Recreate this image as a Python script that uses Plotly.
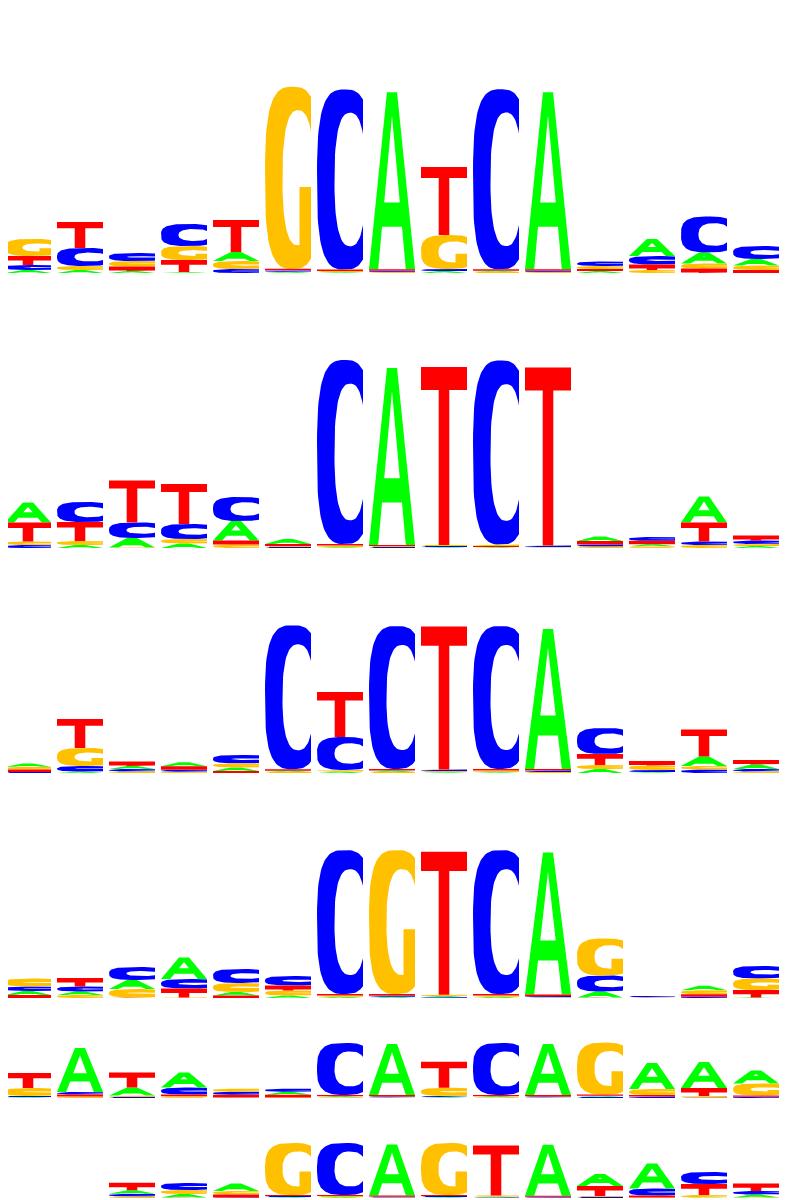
import numpy as np
import plotly.graph_objects as go
from plotly.subplots import make_subplots

# six stacked sequence logos, heights in bits, columns give [A, C, G, T]
letters = ["A", "C", "G", "T"]
colors = {"A": "#00ff00", "C": "#0000ff", "G": "#ffc000", "T": "#ff0000"}
positions = list(range(1, 16))

logo1 = [
    [0.03, 0.05, 0.17, 0.09], [0.03, 0.18, 0.04, 0.26], [0.02, 0.08, 0.055, 0.045],
    [0.01, 0.22, 0.14, 0.12], [0.09, 0.04, 0.08, 0.32], [0.012, 0.015, 1.82, 0.015],
    [0.01, 1.80, 0.01, 0.015], [1.77, 0.015, 0.007, 0.015], [0.02, 0.02, 0.34, 0.68],
    [0.012, 1.80, 0.01, 0.015], [1.77, 0.015, 0.007, 0.015], [0.02, 0.045, 0.03, 0.02],
    [0.17, 0.085, 0.03, 0.055], [0.11, 0.36, 0.05, 0.045], [0.065, 0.13, 0.045, 0.03],
]
logo2 = [
    [0.20, 0.03, 0.035, 0.19], [0.03, 0.20, 0.04, 0.19], [0.095, 0.155, 0.005, 0.42],
    [0.045, 0.15, 0.045, 0.40], [0.195, 0.24, 0.035, 0.04], [0.05, 0.01, 0.01, 0.02],
    [0.01, 1.84, 0.015, 0.015], [1.77, 0.01, 0.01, 0.01], [0.01, 0.01, 0.01, 1.78],
    [0.01, 1.84, 0.015, 0.01], [0.005, 0.015, 0.005, 1.78], [0.045, 0.02, 0.015, 0.035],
    [0.02, 0.038, 0.017, 0.035], [0.26, 0.035, 0.03, 0.19], [0.02, 0.035, 0.02, 0.05],
]
logo3 = [
    [0.033, 0.01, 0.027, 0.025], [0.015, 0.055, 0.18, 0.29], [0.03, 0.025, 0.015, 0.045],
    [0.04, 0.02, 0.013, 0.035], [0.036, 0.085, 0.04, 0.02], [0.012, 1.44, 0.01, 0.015],
    [0.015, 0.33, 0.015, 0.45], [0.015, 1.43, 0.01, 0.015], [0.01, 0.015, 0.01, 1.43],
    [0.01, 1.43, 0.015, 0.015], [1.40, 0.015, 0.01, 0.015], [0.04, 0.26, 0.04, 0.11],
    [0.01, 0.02, 0.045, 0.045], [0.095, 0.035, 0.035, 0.27], [0.045, 0.025, 0.015, 0.045],
]
logo4 = [
    [0.04, 0.045, 0.08, 0.03], [0.035, 0.05, 0.03, 0.085], [0.09, 0.13, 0.085, 0.005],
    [0.215, 0.095, 0.005, 0.09], [0.035, 0.14, 0.09, 0.025], [0.025, 0.095, 0.05, 0.05],
    [0.013, 1.44, 0.013, 0.013], [0.013, 0.013, 1.44, 0.013], [0.013, 0.007, 0.013, 1.43],
    [0.013, 1.44, 0.013, 0.013], [1.42, 0.013, 0.008, 0.013], [0.06, 0.16, 0.37, 0.005],
    [0.003, 0.012, 0.003, 0.003], [0.045, 0.013, 0.04, 0.025], [0.005, 0.125, 0.115, 0.075],
]
logo5 = [
    [0.01, 0.01, 0.08, 0.15], [0.44, 0.025, 0.015, 0.02], [0.08, 0.01, 0.015, 0.15],
    [0.15, 0.07, 0.017, 0.017], [0.005, 0.03, 0.03, 0.028], [0.03, 0.03, 0.005, 0.028],
    [0.013, 0.52, 0.005, 0.013], [0.51, 0.012, 0.005, 0.013], [0.01, 0.012, 0.08, 0.26],
    [0.013, 0.52, 0.005, 0.013], [0.51, 0.012, 0.005, 0.013], [0.012, 0.01, 0.52, 0.012],
    [0.26, 0.015, 0.06, 0.015], [0.26, 0.005, 0.015, 0.08], [0.13, 0.013, 0.12, 0.013],
]
logo6 = [
    [0, 0, 0, 0], [0, 0, 0, 0], [0.035, 0.027, 0.015, 0.075],
    [0.035, 0.07, 0.04, 0.005], [0.075, 0.005, 0.035, 0.03], [0.01, 0.01, 0.52, 0.01],
    [0.01, 0.52, 0.01, 0.01], [0.51, 0.01, 0.005, 0.01], [0.01, 0.01, 0.52, 0.01],
    [0.01, 0.005, 0.01, 0.50], [0.51, 0.01, 0.003, 0.01], [0.12, 0.01, 0.01, 0.10],
    [0.25, 0.07, 0.005, 0.02], [0.005, 0.12, 0.025, 0.11], [0.03, 0.035, 0.005, 0.075],
]
logos = [logo1, logo2, logo3, logo4, logo5, logo6]

PX_PER_BIT = 100
FIG_W, FIG_H = 795, 1200
# figure-pixel rows of panel tops/baselines (page body adds an 8px offset)
row_edges = [0, 265, 540, 765, 990, 1090, 1190]
COL_STEP, COL_W, COL0 = 52, 46, 20                # pixel spacing, glyph width, first centre


def superellipse(cx, cy, rx, ry, n, t):
    c, s = np.cos(t), np.sin(t)
    return (cx + rx * np.sign(c) * np.abs(c) ** (2 / n),
            cy + ry * np.sign(s) * np.abs(s) ** (2 / n))


def glyph(letter, hpx):
    """Polygons of a letter in a unit box; stroke weights keep a pixel floor."""
    if letter == "T":
        tb = min(1.0, 0.11 + 3.5 / hpx)
        return [[(0.385, 0), (0.615, 0), (0.615, 1 - tb), (1, 1 - tb), (1, 1),
                 (0, 1), (0, 1 - tb), (0.385, 1 - tb)]]
    if letter == "A":
        ai = 1 - min(0.5, 0.12 + 2.0 / hpx)
        c0 = 0.24
        c1 = min(c0 + 0.12 + 3.0 / hpx, ai)
        xl = lambda y: 0.39 * y + 0.07
        left = [(0, 0), (0.2, 0), (0.5, ai), (0.5, 1), (0.39, 1)]
        right = [(0.8, 0), (1, 0), (0.61, 1), (0.5, 1), (0.5, ai)]
        bar = [(xl(c0), c0), (1 - xl(c0), c0), (1 - xl(c1), c1), (xl(c1), c1)]
        return [left, right, bar]
    # C and G
    t = min(0.42, 0.115 + 2.5 / hpx)
    ocx, orx, on = 0.6, 0.6, 3.0
    icx, irx, inn = 0.72, 0.34, 2.5
    iry = 0.5 - t
    p0 = np.arccos(((1 - ocx) / orx) ** (on / 2))
    q0 = np.arccos(((1 - icx) / irx) ** (inn / 2))
    ox, oy = superellipse(ocx, 0.5, orx, 0.5, on, np.linspace(p0, 2 * np.pi - p0, 70))
    if letter == "C":
        ix, iy = superellipse(icx, 0.5, irx, iry, inn, np.linspace(2 * np.pi - q0, q0, 60))
        return [list(zip(ox, oy)) + list(zip(ix, iy))]
    q1 = np.arccos(((0.75 - icx) / irx) ** (inn / 2))
    ix, iy = superellipse(icx, 0.5, irx, iry, inn, np.linspace(2 * np.pi - q1, q0, 60))
    bar_top = max(0.45, t + 0.02)
    return [list(zip(ox, oy)) + [(1, bar_top), (0.75, bar_top)] + list(zip(ix, iy))]


nrows = len(logos)
fig = make_subplots(rows=nrows, cols=1, vertical_spacing=0)
wdata = COL_W / COL_STEP

for r, logo in enumerate(logos, start=1):
    paths = {k: ([], []) for k in letters}
    for pos, col in zip(positions, logo):
        y0 = 0.0
        for k, h in sorted(zip(letters, col), key=lambda p: p[1]):
            if h <= 0:
                continue
            for poly in glyph(k, h * PX_PER_BIT):
                xs, ys = paths[k]
                xs.extend(pos - wdata / 2 + gx * wdata for gx, gy in poly)
                ys.extend(y0 + gy * h for gx, gy in poly)
                xs.append(None)
                ys.append(None)
            y0 += h
    for k in letters:
        xs, ys = paths[k]
        fig.add_trace(go.Scatter(
            x=xs, y=ys, mode="lines", fill="toself", fillcolor=colors[k],
            line=dict(width=0, color=colors[k]), hoverinfo="skip", showlegend=False,
        ), row=r, col=1)

x_lo = 1 - COL0 / COL_STEP
x_hi = 1 + (FIG_W - COL0) / COL_STEP
for r in range(1, nrows + 1):
    top, base = row_edges[r - 1], row_edges[r]
    sfx = "" if r == 1 else str(r)
    fig.layout["yaxis" + sfx].update(
        domain=[1 - base / FIG_H, 1 - top / FIG_H],
        range=[0, (base - top) / PX_PER_BIT], visible=False, fixedrange=True,
    )
    fig.layout["xaxis" + sfx].update(range=[x_lo, x_hi], visible=False, fixedrange=True)

fig.update_layout(
    width=FIG_W, height=FIG_H,
    margin=dict(l=0, r=0, t=0, b=0),
    paper_bgcolor="white", plot_bgcolor="white",
    showlegend=False,
)

fig.write_html("out.html")
